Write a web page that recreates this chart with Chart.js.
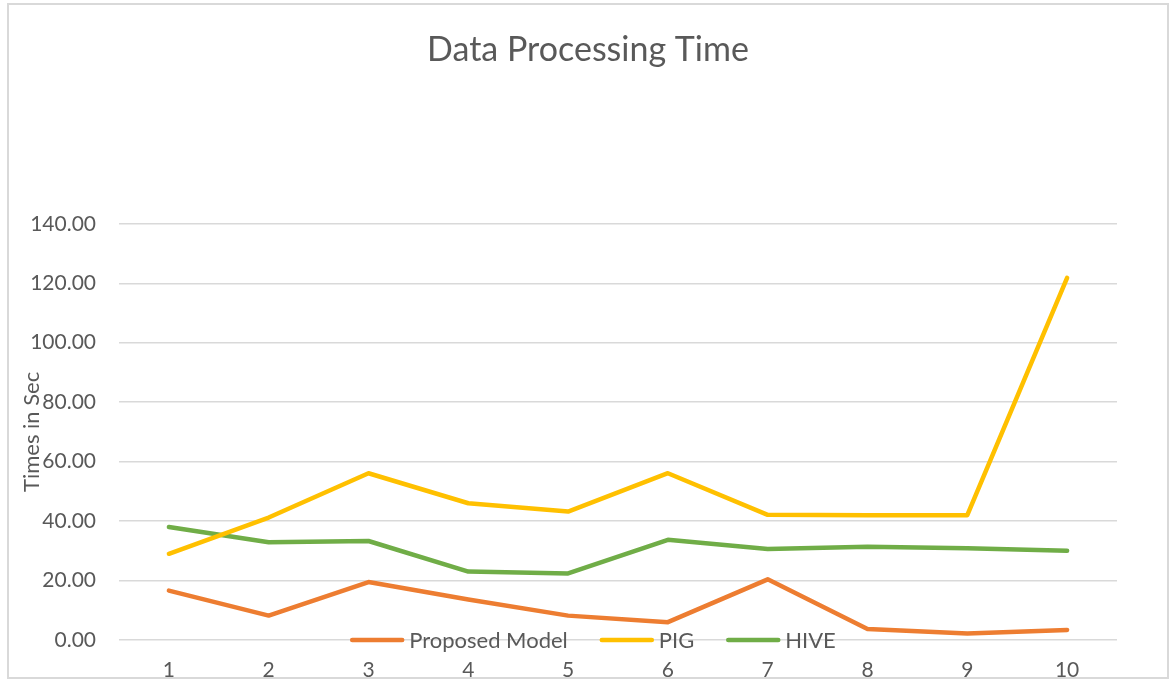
<!DOCTYPE html>
<html>
<head>
<meta charset="utf-8">
<script src="https://cdn.jsdelivr.net/npm/chart.js@4.4.0/dist/chart.umd.min.js"></script>
<style>
  html, body { margin: 0; padding: 0; background: #fff; }
  #wrap { position: relative; width: 1171px; height: 681px; }
</style>
</head>
<body>
<div id="wrap"><canvas id="myChart"></canvas></div>
<script>
var labels = ['1', '2', '3', '4', '5', '6', '7', '8', '9', '10'];
var proposedModel = [16.6, 8.2, 19.5, 13.6, 8.2, 6.0, 20.4, 3.7, 2.2, 3.4];
var pig = [29.0, 41.2, 56.1, 46.0, 43.2, 56.1, 42.1, 42.0, 42.0, 121.8];
var hive = [38.0, 32.9, 33.3, 23.0, 22.4, 33.7, 30.6, 31.4, 30.9, 30.0];

var textColor = '#595959';
var fontFamily = 'Lato, "Open Sans", sans-serif';

// outer frame like the Excel chart border
var frame = {
    id: 'frame',
    beforeDraw: function (chart) {
        var c = chart.ctx;
        c.save();
        c.strokeStyle = '#d9d9d9';
        c.lineWidth = 2;
        c.strokeRect(8, 4, 1160, 674);
        c.restore();
    }
};

// legend sits on the zero line, inside the plot
var legendOnZero = {
    id: 'legendOnZero',
    afterDraw: function (chart) {
        var c = chart.ctx;
        var y = chart.scales.y.getPixelForValue(0);
        c.save();
        c.font = '22px ' + fontFamily;
        c.textBaseline = 'middle';
        var items = chart.data.datasets.map(function (ds) {
            return { text: ds.label, color: ds.borderColor, w: c.measureText(ds.label).width };
        });
        var lineLen = 54, gap = 5, between = 32;
        var total = 0;
        items.forEach(function (it, i) {
            total += lineLen + gap + it.w + (i < items.length - 1 ? between : 0);
        });
        var x = 593 - total / 2;
        items.forEach(function (it) {
            c.strokeStyle = it.color;
            c.lineWidth = 4.5;
            c.lineCap = 'round';
            c.beginPath();
            c.moveTo(x + 2, y);
            c.lineTo(x + lineLen - 2, y);
            c.stroke();
            x += lineLen + gap;
            c.fillStyle = textColor;
            c.fillText(it.text, x, y + 1);
            x += it.w + between;
        });
        c.restore();
    }
};

var ctx = document.getElementById('myChart').getContext('2d');

var myChart = new Chart(ctx, {
    type: 'line',
    data: {
        labels: labels,
        datasets: [{
            label: 'Proposed Model',
            data: proposedModel,
            borderColor: '#ED7D31',
            backgroundColor: '#ED7D31'
        }, {
            label: 'PIG',
            data: pig,
            borderColor: '#FFC000',
            backgroundColor: '#FFC000'
        }, {
            label: 'HIVE',
            data: hive,
            borderColor: '#70AD47',
            backgroundColor: '#70AD47'
        }]
    },
    options: {
        responsive: true,
        maintainAspectRatio: false,
        animation: false,
        elements: {
            line: { borderWidth: 4.5, tension: 0, borderCapStyle: 'round', borderJoinStyle: 'round' },
            point: { radius: 0, hoverRadius: 0 }
        },
        layout: { padding: { left: 19, right: 14, top: 0, bottom: 0 } },
        plugins: {
            legend: { display: false },
            tooltip: { enabled: false },
            title: {
                display: true,
                text: 'Data Processing Time',
                color: textColor,
                font: { family: fontFamily, size: 34, weight: 'normal' },
                padding: { top: 30, bottom: 153 }
            }
        },
        scales: {
            x: {
                offset: true,
                grid: { display: false },
                border: { display: false },
                ticks: { color: textColor, padding: 10, font: { family: fontFamily, size: 21 } },
                afterFit: function (s) { s.height = 41; }
            },
            y: {
                min: 0,
                max: 140,
                grid: { color: '#d9d9d9', lineWidth: 1.5, drawTicks: false },
                border: { display: false },
                ticks: {
                    stepSize: 20,
                    color: textColor,
                    padding: 23,
                    font: { family: fontFamily, size: 21 },
                    callback: function (v) { return v.toFixed(2); }
                },
                title: {
                    display: true,
                    text: 'Times in Sec',
                    color: textColor,
                    font: { family: fontFamily, size: 22 },
                    padding: { top: 0, bottom: 0 }
                },
                afterFit: function (s) { s.width = 100; }
            },
            // empty right-hand spacer so the plot ends where the reference does
            y2: {
                position: 'right',
                min: 0,
                max: 140,
                grid: { display: false },
                border: { display: false },
                ticks: { display: false },
                afterFit: function (s) { s.width = 40; }
            }
        }
    },
    plugins: [frame, legendOnZero]
});
</script>
</body>
</html>
